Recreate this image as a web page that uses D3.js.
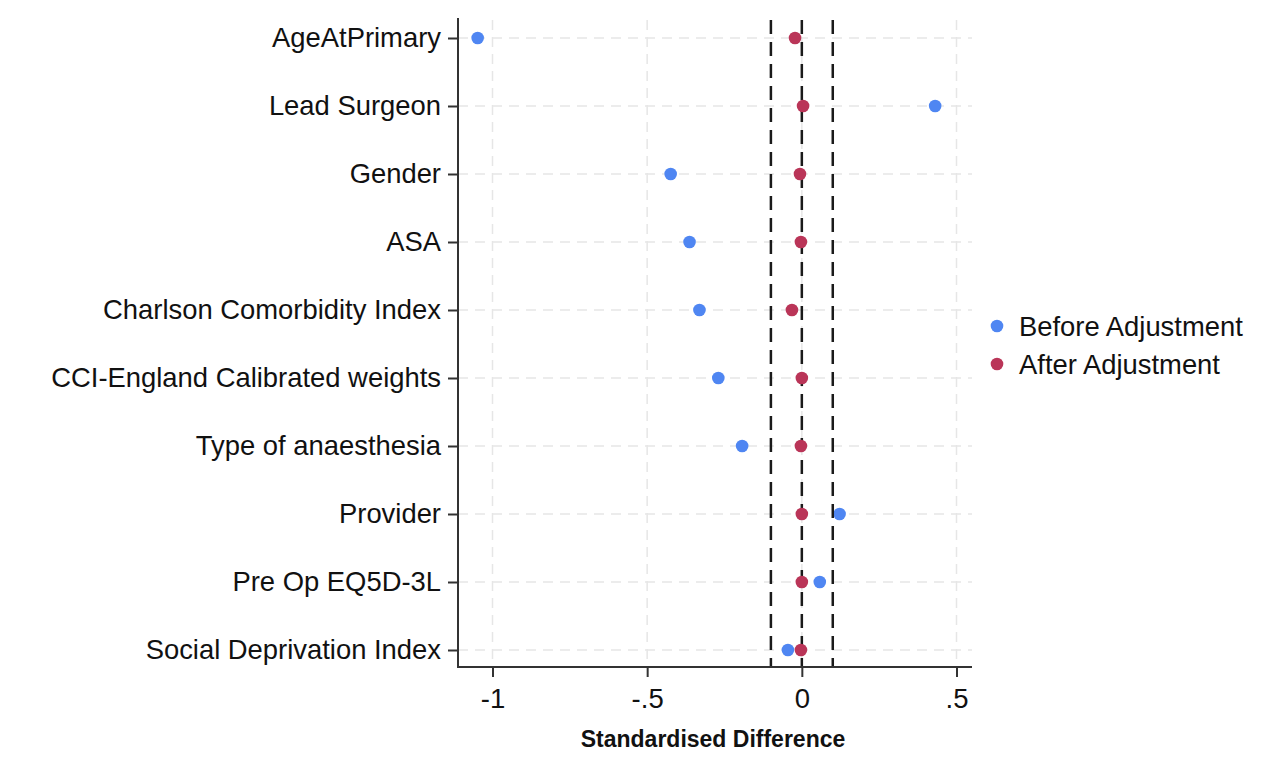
<!DOCTYPE html>
<html><head><meta charset="utf-8">
<script src="https://cdn.jsdelivr.net/npm/d3@7"></script>
<style>body{margin:0;background:#fff;}svg{display:block;font-family:"Liberation Sans",Arial,sans-serif;}</style>
</head><body>
<svg id="c" width="1280" height="759"></svg>
<script>
const categories = ["AgeAtPrimary","Lead Surgeon","Gender","ASA","Charlson Comorbidity Index","CCI-England Calibrated weights","Type of anaesthesia","Provider","Pre Op EQ5D-3L","Social Deprivation Index"];
const beforeValues = [-1.048, 0.431, -0.424, -0.363, -0.331, -0.27, -0.193, 0.122, 0.058, -0.045];
const afterValues = [-0.022, 0.004, -0.006, -0.003, -0.032, 0.0, -0.003, 0.0, 0.0, -0.003];
const xTicks = [-1, -0.5, 0, 0.5];
const xTickLabels = ["-1", "-.5", "0", ".5"];
const refLines = [-0.1, 0, 0.1];
const seriesNames = ["Before Adjustment", "After Adjustment"];
const colors = ["#4F86F2", "#BA3558"];

(function () {
const svg = d3.select("#c");
const pL = 458, pR = 972, pT = 14, pB = 667;
const x = d3.scaleLinear().domain([-1, 0.5]).range([492.5, 956.5]);
const y = d3.scalePoint().domain(categories).range([38, 650]);

// grid
const g = svg.append("g");
g.selectAll("line.vg").data(xTicks).join("line")
  .attr("x1", d => x(d)).attr("x2", d => x(d)).attr("y1", pT + 6).attr("y2", pB)
  .attr("stroke", "#e6e6e6").attr("stroke-width", 1.5).attr("stroke-dasharray", "10,7");
g.selectAll("line.hg").data(categories).join("line")
  .attr("x1", pL).attr("x2", pR).attr("y1", d => y(d)).attr("y2", d => y(d))
  .attr("stroke", "#e6e6e6").attr("stroke-width", 1.5).attr("stroke-dasharray", "10,7");

// before points
svg.append("g").selectAll("circle").data(categories).join("circle")
  .attr("cx", (d, i) => x(beforeValues[i])).attr("cy", d => y(d)).attr("r", 6.3)
  .attr("fill", colors[0]);

// reference dashed lines
svg.append("g").selectAll("line").data(refLines).join("line")
  .attr("x1", d => x(d)).attr("x2", d => x(d)).attr("y1", 20).attr("y2", pB)
  .attr("stroke", "#1a1a1a").attr("stroke-width", 2.5).attr("stroke-dasharray", "14,8");

// after points
svg.append("g").selectAll("circle").data(categories).join("circle")
  .attr("cx", (d, i) => x(afterValues[i])).attr("cy", d => y(d)).attr("r", 6.3)
  .attr("fill", colors[1]);

// axes
const xAxis = svg.append("g").attr("transform", `translate(0,${pB})`)
  .call(d3.axisBottom(x).tickValues(xTicks).tickFormat((d, i) => xTickLabels[i]).tickSize(10).tickPadding(8));
xAxis.select(".domain").remove();
xAxis.append("line").attr("x1", pL).attr("x2", pR).attr("stroke", "#333").attr("stroke-width", 2);
xAxis.selectAll(".tick line").attr("stroke", "#333").attr("stroke-width", 2);
xAxis.selectAll(".tick text").attr("font-size", 27.5).attr("fill", "#111").attr("font-family", '"Liberation Sans",Arial,sans-serif').attr("dy", "0.85em");

const yAxis = svg.append("g").attr("transform", `translate(${pL},0)`)
  .call(d3.axisLeft(y).tickSize(10).tickPadding(7));
yAxis.select(".domain").remove();
yAxis.append("line").attr("y1", pT + 4).attr("y2", pB + 1).attr("stroke", "#333").attr("stroke-width", 2);
yAxis.selectAll(".tick line").attr("stroke", "#333").attr("stroke-width", 2);
yAxis.selectAll(".tick text").attr("font-size", 27.4).attr("fill", "#111").attr("font-family", '"Liberation Sans",Arial,sans-serif');

// x title
svg.append("text").attr("x", 713).attr("y", 747).attr("text-anchor", "middle")
  .attr("font-size", 23).attr("font-weight", "bold").attr("fill", "#111").text("Standardised Difference");

// legend
const lg = svg.append("g");
seriesNames.forEach((s, i) => {
  lg.append("circle").attr("cx", 997).attr("cy", 326 + i * 38).attr("r", 6.3).attr("fill", colors[i]);
  lg.append("text").attr("x", 1019).attr("y", 326 + i * 38).attr("dy", "0.35em")
    .attr("font-size", 27.4).attr("fill", "#111").text(s);
});
})();
</script>
</body></html>
